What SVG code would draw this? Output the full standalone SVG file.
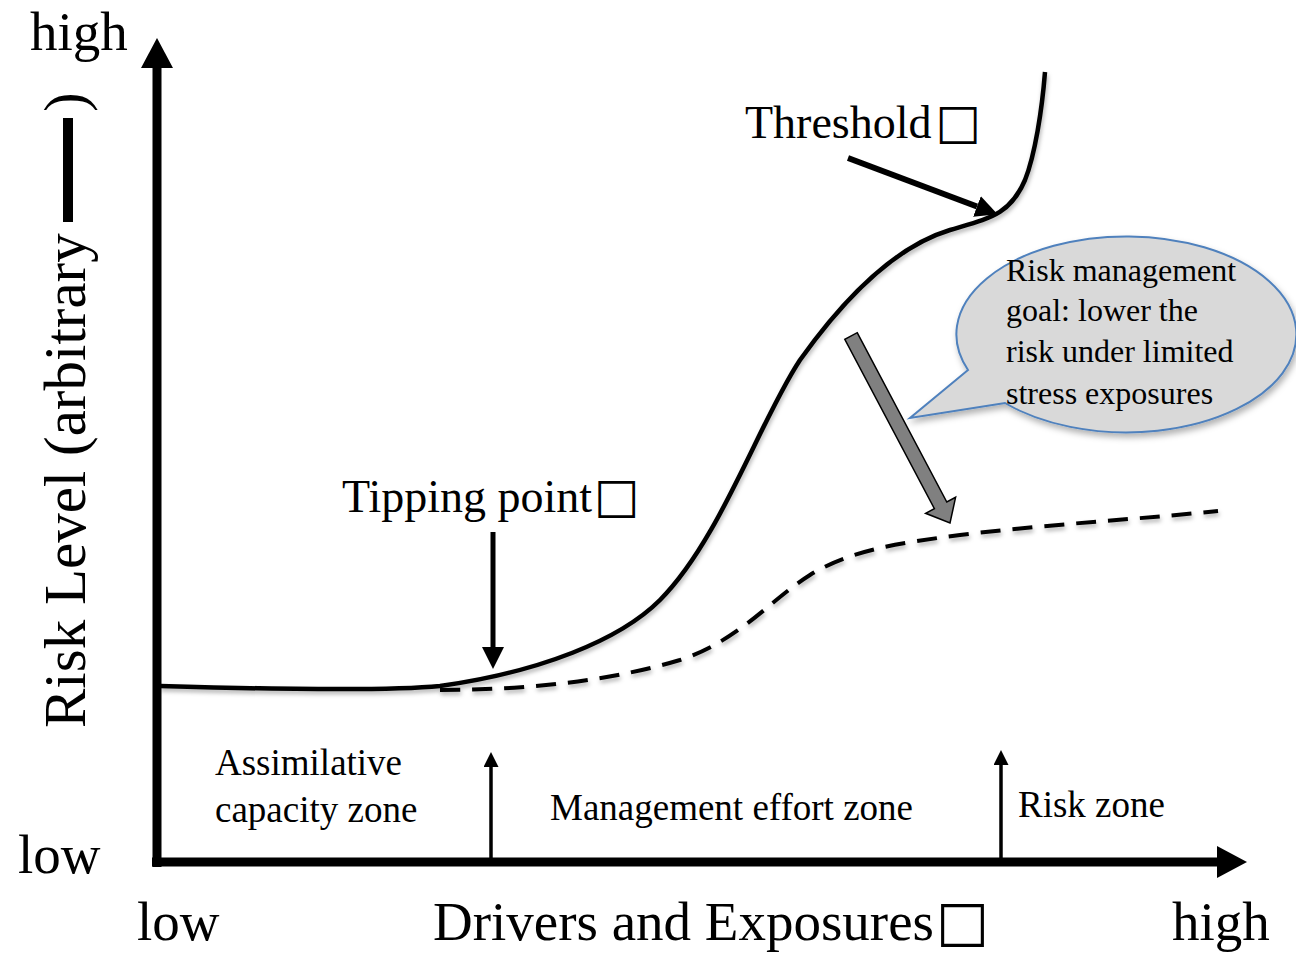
<svg xmlns="http://www.w3.org/2000/svg" width="1296" height="953" viewBox="0 0 1296 953">
<style>
  text { font-family: "Liberation Serif", "Times New Roman", "DejaVu Serif", serif; fill: #000; }
  .big { font-size: 55px; }
  .ylab { font-size: 59px; }
  .mid { font-size: 46px; }
  .zone { font-size: 37px; }
  .note { font-size: 32px; }
  .boxbig { font-family: "DejaVu Sans", sans-serif; font-size: 56px; }
  .boxmid { font-family: "DejaVu Sans", sans-serif; font-size: 48px; }
  .axis { stroke: #000; stroke-width: 9; fill: none; }
  .zarrow { stroke: #000; stroke-width: 3.5; fill: none; }
  .curve { stroke: #000; stroke-width: 4.5; fill: none; }
  .dashed { stroke: #000; stroke-width: 4; fill: none; stroke-dasharray: 20 12; }
</style>
<defs>
  <marker id="axisHead" viewBox="0 -16 30 32" markerWidth="30" markerHeight="32" refX="0" refY="0" orient="auto" markerUnits="userSpaceOnUse">
    <path d="M0,-16 L30,0 L0,16 Z" fill="#000"/>
  </marker>
  <marker id="zoneHead" viewBox="0 -7.5 15 15" markerWidth="15" markerHeight="15" refX="0" refY="0" orient="auto" markerUnits="userSpaceOnUse">
    <path d="M0,-7.5 L15,0 L0,7.5 Z" fill="#000"/>
  </marker>
  <marker id="ptrHead" viewBox="0 -11 22 22" markerWidth="22" markerHeight="22" refX="0" refY="0" orient="auto" markerUnits="userSpaceOnUse">
    <path d="M0,-11 L22,0 L0,11 Z" fill="#000"/>
  </marker>
  <filter id="shadow" x="-10%" y="-10%" width="130%" height="140%">
    <feDropShadow dx="2" dy="4" stdDeviation="3" flood-color="#000" flood-opacity="0.3"/>
  </filter>
  <filter id="lshadow" x="-5%" y="-5%" width="110%" height="120%">
    <feDropShadow dx="1" dy="3" stdDeviation="2" flood-color="#000" flood-opacity="0.3"/>
  </filter>
</defs>

<g id="axes">
  <line class="axis" x1="157" y1="867" x2="157" y2="68" marker-end="url(#axisHead)"/>
  <line class="axis" x1="152" y1="862" x2="1217" y2="862" marker-end="url(#axisHead)"/>
</g>

<g id="axis-labels">
  <text class="big" x="30" y="50">high</text>
  <text class="big" x="18" y="873">low</text>
  <text class="big" x="137" y="940">low</text>
  <text class="big" x="433" y="940">Drivers and Exposures<tspan class="boxbig" dx="2">□</tspan></text>
  <text class="big" x="1172" y="940">high</text>
  <g id="y-label">
    <text class="ylab" transform="translate(85,728) rotate(-90)">Risk Level (arbitrary</text>
    <rect x="63" y="118" width="10" height="104" fill="#000"/>
    <text class="ylab" transform="translate(85,112) rotate(-90)">)</text>
  </g>
</g>

<g id="curves">
  <path id="risk-curve" class="curve" filter="url(#lshadow)" d="M160,686 C300,690 400,690 440,686 C540,672 620,640 660,600 C720,540 760,420 800,360 C850,290 900,245 950,230 C990,218 1010,215 1025,180 C1035,155 1042,110 1045,72"/>
  <path id="managed-curve" class="dashed" filter="url(#lshadow)" d="M440,690 C540,690 620,678 680,660 C740,640 770,600 810,575 C850,550 900,543 960,535 C1050,524 1130,520 1218,511"/>
</g>

<g id="connectors">
  <line class="zarrow" x1="491" y1="860" x2="491" y2="767" marker-end="url(#zoneHead)"/>
  <line class="zarrow" x1="1001" y1="860" x2="1001" y2="765" marker-end="url(#zoneHead)"/>
  <line stroke="#000" stroke-width="5" x1="493" y1="532" x2="493" y2="647" marker-end="url(#ptrHead)"/>
  <line stroke="#000" stroke-width="6" x1="848" y1="158" x2="977" y2="206.5" marker-end="url(#ptrHead)"/>
  <polygon id="gray-arrow" points="857.2,332.7 946.8,502 955.6,497.3 950,523 925.6,513.3 934.4,508.6 844.8,339.3" fill="#808080" stroke="#000" stroke-width="1.5" stroke-linejoin="miter"/>
</g>

<g id="tipping-point">
  <text class="mid" x="342" y="512">Tipping point<tspan class="boxmid" dx="2">□</tspan></text>
</g>
<g id="threshold">
  <text class="mid" x="745" y="138">Threshold<tspan class="boxmid" dx="4">□</tspan></text>
</g>

<g id="callout">
  <path d="M968,370 L910,418 L1005,403 A170,98 0 1 0 968,370 Z" fill="#d9d9d9" stroke="#4f81bd" stroke-width="2" filter="url(#shadow)"/>
  <text class="note" x="1006" y="281">Risk management</text>
  <text class="note" x="1006" y="321">goal: lower the</text>
  <text class="note" x="1006" y="362">risk under limited</text>
  <text class="note" x="1006" y="404">stress exposures</text>
</g>

<g id="zones">
  <text class="zone" x="215" y="775">Assimilative</text>
  <text class="zone" x="215" y="822">capacity zone</text>
  <text class="zone" x="550" y="820">Management effort zone</text>
  <text class="zone" x="1018" y="817">Risk zone</text>
</g>
</svg>
